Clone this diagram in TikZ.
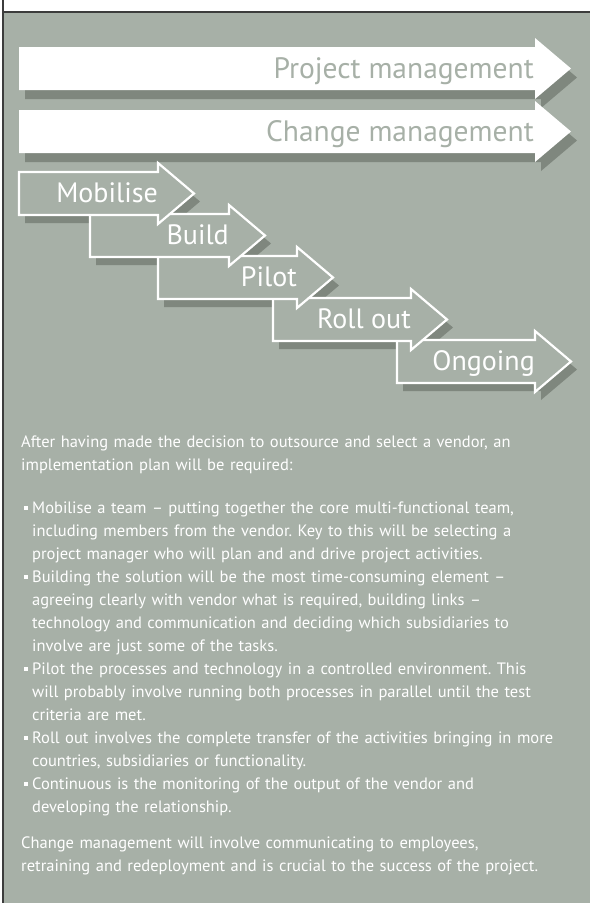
\documentclass[tikz,border=0pt]{standalone}
\usepackage{fontspec}
\setmainfont{PT Sans}
\usepackage{xcolor}
\usepackage{tikz}
\usetikzlibrary{positioning}
\definecolor{sage}{HTML}{A7B0A7}
\definecolor{sageDark}{HTML}{7F877E}
\definecolor{frame}{HTML}{3C3C3C}
\frenchspacing
\newcommand{\arrowpath}[3]{(#1,#2) -- ++(#3,0) -- ++(0,-9) -- ++(36,30.5) -- ++(-36,30.5) -- ++(0,-9) -- ++(-#3,0) -- cycle}
\newcommand{\sqbullet}{\leavevmode\strut\llap{\rule[3.5pt]{3.5pt}{3.5pt}\hspace{4.5pt}}}

\begin{document}
\begin{tikzpicture}[x=1pt,y=-1pt]
    \tikzset{shadowfill/.style={fill=sageDark}, stepbox/.style={draw=white,line width=2.2pt,fill=sage}, bandtxt/.style={anchor=base east,inner sep=0,text=sage,font=\fontsize{29.5}{31}\selectfont}, steptxt/.style={anchor=base east,inner sep=0,text=white,font=\fontsize{28}{30}\selectfont}, para/.style={anchor=north west,inner sep=0,text=white,text width=600pt,align=left,font=\fontsize{16.5}{23}\selectfont\frenchspacing}}
    \useasboundingbox (0,0) rectangle (590,903);
    \fill[white] (0,0) rectangle (590,903);
    \fill[sage] (3,12) rectangle (590,903);
    \draw[frame,line width=1.2pt] (3,0) -- (3,903) (3,12) -- (590,12);
    % the two long bands
    \foreach \y/\t/\n in {47/Project management/pm,110/Change management/cm}{
      \fill[shadowfill] \arrowpath{25}{\y+9}{516};
      \fill[white] \arrowpath{19}{\y}{516};
      \node[bandtxt] (\n) at (534,\y+31) {\t};
    }
    % the stair of phases
    \foreach \x/\y/\w in {397/340/138,273/298/138,158/256/139,90/214/139,19/172/139}
      \fill[shadowfill] \arrowpath{\x+6}{\y+8}{\w};
    \foreach \x/\y/\w/\t/\n in {397/340/138/Ongoing/ong,273/298/138/Roll out/rol,158/256/139/Pilot/plt,90/214/139/Build/bld,19/172/139/Mobilise/mob}{
      \path[stepbox] \arrowpath{\x}{\y}{\w};
      \node[steptxt] (\n) at (\x+\w,\y+30) {\t};
    }
    \node[para] (intro) at (21,431) {\strut After having made the decision to outsource and select a vendor, an\\ implementation plan will be required:};
    \node[para] (steps) at (32,497) {\sqbullet Mobilise a team – putting together the core multi-functional team,\\
      including members from the vendor. Key to this will be selecting a\\
      project manager who will plan and and drive project activities.\\
      \sqbullet Building the solution will be the most time-consuming element –\\
      agreeing clearly with vendor what is required, building links –\\
      technology and communication and deciding which subsidiaries to\\
      involve are just some of the tasks.\\
      \sqbullet Pilot the processes and technology in a controlled environment. This\\
      will probably involve running both processes in parallel until the test\\
      criteria are met.\\
      \sqbullet Roll out involves the complete transfer of the activities bringing in more\\
      countries, subsidiaries or functionality.\\
      \sqbullet Continuous is the monitoring of the output of the vendor and\\
      developing the relationship.};
    \node[para] (outro) at (21,832) {\strut Change management will involve communicating to employees,\\ retraining and redeployment and is crucial to the success of the project.};
\end{tikzpicture}
\end{document}
